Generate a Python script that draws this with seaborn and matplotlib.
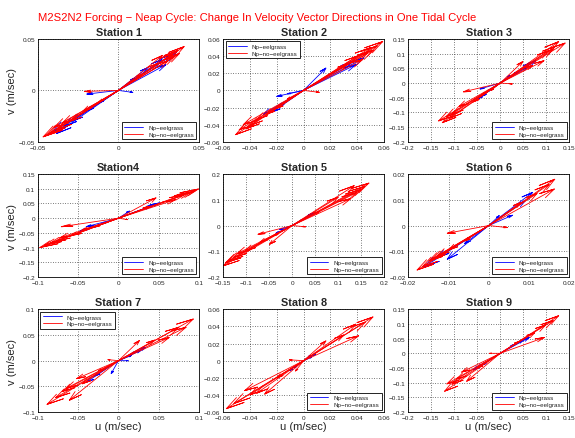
import numpy as np
import pandas as pd
import matplotlib
matplotlib.use("Agg")
import matplotlib.pyplot as plt
import seaborn as sns

# velocity vector tips (u, v) per station, blue = eelgrass, red = no eelgrass
st1_eel = [(0.036, 0.037), (0.033, 0.035), (0.0295, 0.025), (0.027, 0.030), (0.018, 0.022), (0.010, 0.012),
           (0.0089, -0.002), (-0.0196, -0.0036), (-0.0386, -0.042), (-0.034, -0.035), (-0.029, -0.030),
           (-0.020, -0.020), (-0.012, -0.012), (-0.041, -0.040)]
st1_noeel = [(0.0408, 0.0426), (0.037, 0.039), (0.034, 0.036), (0.0274, 0.034), (0.031, 0.029), (0.024, 0.026),
             (0.015, 0.016), (0.038, 0.036), (0.035, 0.033), (-0.021, -0.001), (-0.0468, -0.0452),
             (-0.043, -0.042), (-0.040, -0.036), (-0.035, -0.032), (-0.030, -0.030), (-0.022, -0.020),
             (-0.012, -0.011), (-0.045, -0.044), (-0.038, -0.038)]

st2_eel = [(0.039, 0.030), (0.045, 0.038), (0.0166, 0.026), (0.010, 0.009), (-0.020, -0.007), (-0.012, -0.004),
           (-0.019, -0.019), (-0.030, -0.028), (-0.023, -0.025), (0.036, 0.033)]
st2_noeel = [(0.059, 0.057), (0.052, 0.047), (0.048, 0.044), (0.044, 0.036), (0.040, 0.040), (0.033, 0.031),
             (0.055, 0.052), (0.050, 0.050), (0.0116, -0.0023), (-0.0507, -0.0517), (-0.045, -0.040),
             (-0.040, -0.041), (-0.035, -0.034), (-0.028, -0.028), (-0.020, -0.021), (-0.012, -0.010),
             (-0.048, -0.046), (-0.043, -0.045)]

st3_eel = [(0.077, 0.076), (0.060, 0.055), (0.040, 0.040), (0.020, 0.025), (-0.044, -0.020), (-0.051, -0.055),
           (-0.040, -0.045), (-0.030, -0.030), (0.065, 0.068)]
st3_noeel = [(0.127, 0.141), (0.141, 0.136), (0.115, 0.115), (0.095, 0.076), (0.049, 0.073), (0.070, 0.060),
             (0.120, 0.125), (0.105, 0.110), (0.026, -0.003), (-0.080, -0.030), (-0.134, -0.129),
             (-0.126, -0.135), (-0.105, -0.106), (-0.090, -0.080), (-0.060, -0.065), (-0.040, -0.040),
             (-0.020, -0.025), (-0.118, -0.115), (-0.110, -0.120)]

st4_eel = [(0.051, 0.052), (0.040, 0.040), (0.0136, 0.024), (-0.040, -0.029), (-0.048, -0.044),
           (-0.035, -0.033), (-0.020, -0.018), (0.045, 0.046)]
st4_noeel = [(0.0994, 0.0993), (0.090, 0.088), (0.071, 0.063), (0.0466, 0.069), (0.040, 0.041),
             (0.095, 0.092), (0.082, 0.080), (0.0115, -0.005), (-0.071, -0.029), (-0.0977, -0.100),
             (-0.085, -0.085), (-0.073, -0.067), (-0.060, -0.060), (-0.045, -0.040), (-0.030, -0.030),
             (-0.092, -0.092), (-0.078, -0.078)]

st5_eel = [(0.052, 0.051), (0.040, 0.040), (0.025, 0.025), (-0.027, -0.016), (-0.020, -0.018),
           (-0.035, -0.030), (0.046, 0.048)]
st5_noeel = [(0.167, 0.165), (0.135, 0.155), (0.128, 0.105), (0.150, 0.140), (0.100, 0.110), (0.060, 0.055),
             (0.158, 0.152), (0.140, 0.128), (0.029, -0.005), (-0.074, -0.034), (-0.150, -0.157),
             (-0.139, -0.138), (-0.120, -0.110), (-0.103, -0.099), (-0.049, -0.073), (-0.070, -0.065),
             (-0.040, -0.040), (-0.145, -0.145), (-0.128, -0.125)]

st6_eel = [(0.0109, 0.0129), (0.0059, 0.0040), (0.0026, 0.0038), (0.0090, 0.0095), (-0.0103, -0.0131),
           (-0.0130, -0.0125), (-0.0060, -0.0070), (-0.0160, -0.0160)]
st6_noeel = [(0.0164, 0.0180), (0.0163, 0.0142), (0.0120, 0.0125), (0.0080, 0.0090), (0.0150, 0.0160),
             (0.0046, -0.0008), (-0.0103, -0.0030), (-0.0178, -0.0173), (-0.0149, -0.0138),
             (-0.0128, -0.0118), (-0.0100, -0.0095), (-0.0060, -0.0060), (-0.0165, -0.0160),
             (-0.0140, -0.0130)]

st7_eel = [(0.034, 0.026), (0.016, 0.010), (0.028, 0.020), (-0.009, -0.025), (-0.040, -0.042),
           (-0.030, -0.030), (0.012, 0.000), (0.022, 0.018)]
st7_noeel = [(0.093, 0.081), (0.084, 0.065), (0.063, 0.045), (0.026, 0.039), (0.045, 0.040), (0.075, 0.065),
             (-0.013, 0.002), (-0.0887, -0.085), (-0.061, -0.077), (-0.065, -0.054), (-0.052, -0.035),
             (-0.045, -0.045), (-0.025, -0.020), (-0.078, -0.072), (-0.070, -0.060)]

st8_eel = [(0.009, 0.0077), (0.005, 0.006), (-0.0106, -0.0116), (-0.007, -0.008), (0.006, 0.004)]
st8_noeel = [(0.0517, 0.051), (0.0388, 0.0426), (0.041, 0.029), (0.0166, 0.023), (0.030, 0.030),
             (0.046, 0.045), (-0.0106, 0.001), (-0.0576, -0.056), (-0.044, -0.035), (-0.029, -0.039),
             (-0.040, -0.040), (-0.006, -0.012), (-0.020, -0.020), (-0.052, -0.050), (-0.035, -0.038)]

st9_eel = [(0.063, 0.054), (0.050, 0.045), (-0.059, -0.056), (-0.040, -0.040), (0.030, 0.030),
           (-0.050, -0.048)]
st9_noeel = [(0.127, 0.128), (0.099, 0.097), (0.096, 0.054), (0.075, 0.070), (0.040, 0.040), (0.115, 0.112),
             (-0.023, 0.000), (-0.121, -0.129), (-0.116, -0.104), (-0.073, -0.095), (-0.084, -0.064),
             (-0.050, -0.050), (-0.105, -0.105), (-0.095, -0.088)]

titles = ["Station 1", "Station 2", "Station 3", "Station4", "Station 5",
          "Station 6", "Station 7", "Station 8", "Station 9"]
eel_series = [st1_eel, st2_eel, st3_eel, st4_eel, st5_eel, st6_eel, st7_eel, st8_eel, st9_eel]
noeel_series = [st1_noeel, st2_noeel, st3_noeel, st4_noeel, st5_noeel,
                st6_noeel, st7_noeel, st8_noeel, st9_noeel]

x_ticks = [np.arange(-0.05, 0.051, 0.05), np.arange(-0.06, 0.061, 0.02), np.arange(-0.2, 0.151, 0.05),
           np.arange(-0.1, 0.101, 0.05), np.arange(-0.15, 0.201, 0.05), np.arange(-0.02, 0.021, 0.01),
           np.arange(-0.1, 0.101, 0.05), np.arange(-0.06, 0.061, 0.02), np.arange(-0.2, 0.151, 0.05)]
y_ticks = [np.arange(-0.05, 0.051, 0.05), np.arange(-0.06, 0.061, 0.02), np.arange(-0.2, 0.151, 0.05),
           np.arange(-0.2, 0.151, 0.05), np.arange(-0.2, 0.201, 0.1), np.arange(-0.02, 0.021, 0.01),
           np.arange(-0.1, 0.101, 0.05), np.arange(-0.06, 0.061, 0.02), np.arange(-0.2, 0.151, 0.05)]
legend_locs = ["lower right", "upper left", "lower right", "lower right", "lower right",
               "lower right", "upper left", "lower right", "lower right"]

LAB_EEL = "Np\u2212eelgrass"
LAB_NO = "Np\u2212no\u2212eelgrass"


def vectors_frame(tips, label):
    # compass style arrows: origin -> tip, with a small head near the tip
    rows = []
    for k, (u, v) in enumerate(tips):
        z = complex(u, v)
        pts = [0, z, z * complex(0.82, 0.05), z, z * complex(0.82, -0.05)]
        for p in pts:
            rows.append({"u": p.real, "v": p.imag, "vec": k, "series": label})
    return pd.DataFrame(rows)


def fmt(t):
    s = f"{t:.2f}".rstrip("0").rstrip(".")
    if s in ("-0", "0"):
        return "0"
    return s.replace("-", "\u2212")


sns.set_style("white")
plt.rcParams["font.family"] = ["Liberation Sans", "DejaVu Sans"]

fig, axes = plt.subplots(3, 3, figsize=(5.75, 4.39), dpi=100)
fig.subplots_adjust(left=0.066, right=0.99, top=0.909, bottom=0.059, wspace=0.15, hspace=0.314)

for i, ax in enumerate(axes.flat):
    df = pd.concat([vectors_frame(eel_series[i], LAB_EEL), vectors_frame(noeel_series[i], LAB_NO)])
    sns.lineplot(data=df, x="u", y="v", hue="series", units="vec", estimator=None, sort=False,
                 palette={LAB_EEL: "#0000ff", LAB_NO: "#ff0000"}, linewidth=0.6, ax=ax)
    xt, yt = x_ticks[i], y_ticks[i]
    ax.set_xlim(xt[0], xt[-1])
    ax.set_ylim(yt[0], yt[-1])
    ax.set_xticks(xt)
    ax.set_yticks(yt)
    ax.set_xticklabels([fmt(t) for t in xt])
    ax.set_yticklabels([fmt(t) for t in yt])
    ax.tick_params(labelsize=4.6, direction="in", length=2, width=0.5, pad=2)
    ax.grid(True, color="black", linestyle=(0, (1, 2.5)), linewidth=0.5)
    for sp in ax.spines.values():
        sp.set_color("black")
        sp.set_linewidth(0.6)
    ax.set_title(titles[i], fontsize=7.8, fontweight="bold", pad=3)
    ax.set_xlabel("u (m/sec)" if i >= 6 else "", fontsize=8, labelpad=1)
    ax.set_ylabel("v (m/sec)" if i % 3 == 0 else "", fontsize=8, labelpad=1)
    handles, labels = ax.get_legend_handles_labels()
    leg = ax.legend(handles, labels, loc=legend_locs[i], fontsize=4.5, frameon=True, fancybox=False,
                    edgecolor="black", handlelength=3, borderpad=0.4, labelspacing=0.2,
                    borderaxespad=0.4, framealpha=1)
    leg.get_frame().set_linewidth(0.6)

fig.text(0.066, 1 - 18 / 439, "M2S2N2 Forcing \u2212 Neap Cycle: Change In Velocity Vector Directions in One Tidal Cycle",
         color="#ff0000", fontsize=8.1, va="center", ha="left")

fig.savefig("out.png", dpi=100)
